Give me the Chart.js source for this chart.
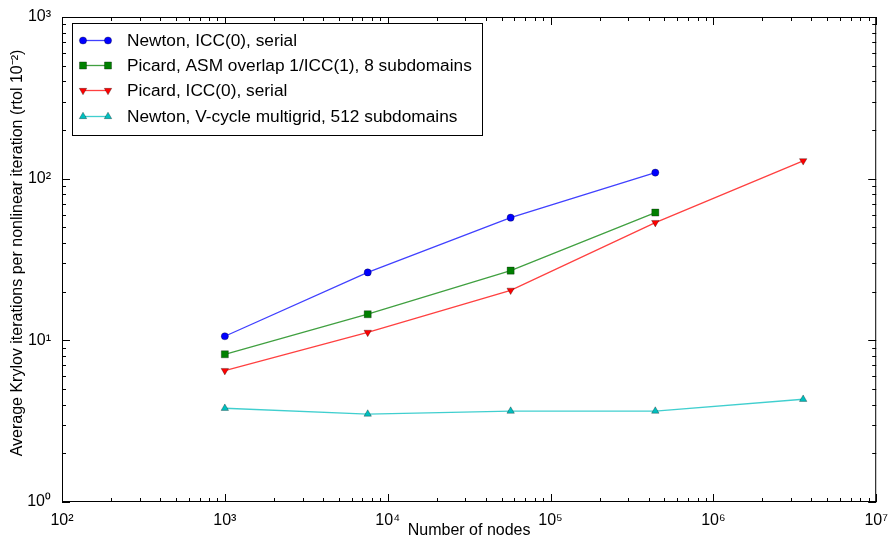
<!DOCTYPE html>
<html>
<head>
<meta charset="utf-8">
<script src="https://cdn.jsdelivr.net/npm/chart.js@4/dist/chart.umd.min.js"></script>
<style>
  html, body { margin: 0; padding: 0; background: #fff; }
  #wrap { width: 889px; height: 540px; position: relative; }
</style>
</head>
<body>
<div id="wrap"><canvas id="chart"></canvas></div>
<script>
// data (log-log axes)
const nodesShort = [1000, 7540, 56900, 440000];
const nodesLong = [1000, 7540, 56900, 440000, 3560000];

const newtonSerial = [10.6, 26.3, 57.4, 109];
const picardAsm = [8.2, 14.5, 27, 61.7];
const picardSerial = [6.5, 11.2, 20.4, 53.5, 129];
const newtonMultigrid = [3.8, 3.5, 3.65, 3.65, 4.32];

const seriesLabels = [
    'Newton, ICC(0), serial',
    'Picard, ASM overlap 1/ICC(1), 8 subdomains',
    'Picard, ICC(0), serial',
    'Newton, V-cycle multigrid, 512 subdomains'
];

const xTicks = [1e2, 1e3, 1e4, 1e5, 1e6, 1e7];
const yTicks = [1e0, 1e1, 1e2, 1e3];
const yTitle = 'Average Krylov iterations per nonlinear iteration (rtol 10\u207b\u00b2)';

const FONT = '"Liberation Sans", Arial, sans-serif';
const sup = { '0': '\u2070', '1': '\u00b9', '2': '\u00b2', '3': '\u00b3', '4': '\u2074', '5': '\u2075', '6': '\u2076', '7': '\u2077' };
const powLabel = v => '10' + sup[String(Math.round(Math.log10(v)))];

const pairs = (xs, ys) => ys.map((y, i) => ({ x: xs[i], y: y }));

// matplotlib-style frame with inward major/minor ticks on all sides
const framePlugin = {
    id: 'frame',
    afterDatasetsDraw(chart) {
        const { ctx, chartArea: a, scales } = chart;
        ctx.save();
        ctx.strokeStyle = '#000';
        ctx.lineWidth = 1;
        ctx.strokeRect(a.left + 0.5, a.top + 0.5, a.right - a.left - 1, a.bottom - a.top - 1);
        ctx.beginPath();
        const xs = scales.x, ys = scales.y;
        for (let d = 2; d <= 7; d++) {
            for (let k = 1; k <= 9; k++) {
                const v = k * Math.pow(10, d);
                if (v > 1e7) break;
                const len = k === 1 ? 8 : 4;
                const px = Math.round(xs.getPixelForValue(v)) + 0.5;
                ctx.moveTo(px, a.bottom); ctx.lineTo(px, a.bottom - len);
                ctx.moveTo(px, a.top); ctx.lineTo(px, a.top + len);
            }
        }
        for (let d = 0; d <= 3; d++) {
            for (let k = 1; k <= 9; k++) {
                const v = k * Math.pow(10, d);
                if (v > 1e3) break;
                const len = k === 1 ? 8 : 4;
                const py = Math.round(ys.getPixelForValue(v)) + 0.5;
                ctx.moveTo(a.left, py); ctx.lineTo(a.left + len, py);
                ctx.moveTo(a.right, py); ctx.lineTo(a.right - len, py);
            }
        }
        ctx.stroke();

        // y axis title, rotated
        ctx.translate(18, 253);
        ctx.rotate(-Math.PI / 2);
        ctx.fillStyle = '#000';
        ctx.font = '16px ' + FONT;
        ctx.textAlign = 'center';
        ctx.textBaseline = 'middle';
        ctx.fillText(yTitle, 0, 0);
        ctx.restore();
    }
};

// legend box inside the upper left of the plot
const boxLegendPlugin = {
    id: 'boxLegend',
    afterDraw(chart) {
        const { ctx } = chart;
        const left = 72, top = 23, right = 482, bottom = 135;
        ctx.save();
        ctx.fillStyle = '#fff';
        ctx.fillRect(left, top, right - left, bottom - top);
        ctx.strokeStyle = '#000';
        ctx.lineWidth = 1;
        ctx.strokeRect(left + 0.5, top + 0.5, right - left, bottom - top);
        const rows = [40.5, 65.5, 90.5, 116.5];
        chart.data.datasets.forEach((ds, i) => {
            const y = rows[i];
            ctx.strokeStyle = ds.borderColor;
            ctx.lineWidth = ds.borderWidth;
            ctx.beginPath();
            ctx.moveTo(83, y); ctx.lineTo(108, y);
            ctx.stroke();
            const opts = {
                pointStyle: ds.pointStyle, radius: ds.pointRadius, rotation: ds.pointRotation || 0,
                borderWidth: ds.pointBorderWidth
            };
            [83, 108].forEach(x => {
                ctx.fillStyle = ds.pointBackgroundColor;
                ctx.strokeStyle = ds.pointBorderColor;
                ctx.lineWidth = ds.pointBorderWidth;
                Chart.helpers.drawPoint(ctx, opts, x, y);
            });
            ctx.fillStyle = '#000';
            ctx.font = '17.3px ' + FONT;
            ctx.textBaseline = 'middle';
            ctx.fillText(ds.label, 127, y + 1);
        });
        ctx.restore();
    }
};

const mk = (label, data, line, fill, style, rot, r) => ({
    label: label,
    data: data,
    borderColor: line,
    borderWidth: 1.3,
    pointStyle: style,
    pointRotation: rot,
    pointRadius: r,
    pointBackgroundColor: fill,
    pointBorderColor: 'rgba(0,0,0,0.6)',
    pointBorderWidth: 0.5,
    tension: 0,
    fill: false
});

new Chart(document.getElementById('chart'), {
    type: 'line',
    data: {
        datasets: [
            mk(seriesLabels[0], pairs(nodesShort, newtonSerial), 'rgba(0,0,255,0.75)', '#0000ff', 'circle', 0, 3.6),
            mk(seriesLabels[1], pairs(nodesShort, picardAsm), 'rgba(0,128,0,0.75)', '#008000', 'rect', 0, 5),
            mk(seriesLabels[2], pairs(nodesLong, picardSerial), 'rgba(255,0,0,0.75)', '#ff0000', 'triangle', 180, 4.3),
            mk(seriesLabels[3], pairs(nodesLong, newtonMultigrid), 'rgba(0,191,191,0.75)', '#00bfbf', 'triangle', 0, 4.3)
        ]
    },
    options: {
        responsive: true,
        maintainAspectRatio: false,
        animation: false,
        layout: { padding: { top: 17, right: 11, left: 0, bottom: 0 } },
        scales: {
            x: {
                type: 'logarithmic',
                min: 1e2, max: 1e7,
                afterBuildTicks: s => { s.ticks = xTicks.map(v => ({ value: v })); },
                afterFit: s => { s.height = 38; },
                ticks: {
                    color: '#000', font: { family: FONT, size: 16 }, padding: 1,
                    maxRotation: 0, autoSkip: false,
                    callback: v => powLabel(v)
                },
                grid: { display: false },
                border: { display: false },
                title: { display: true, text: 'Number of nodes', color: '#000', font: { family: FONT, size: 16 }, padding: { top: 0, bottom: 0 } }
            },
            y: {
                type: 'logarithmic',
                min: 1e0, max: 1e3,
                afterBuildTicks: s => { s.ticks = yTicks.map(v => ({ value: v })); },
                afterFit: s => { s.width = 62; },
                ticks: {
                    color: '#000', font: { family: FONT, size: 16 }, padding: 3,
                    autoSkip: false,
                    callback: v => powLabel(v)
                },
                grid: { display: false },
                border: { display: false }
            }
        },
        plugins: {
            legend: { display: false },
            tooltip: { enabled: false }
        }
    },
    plugins: [framePlugin, boxLegendPlugin]
});
</script>
</body>
</html>
